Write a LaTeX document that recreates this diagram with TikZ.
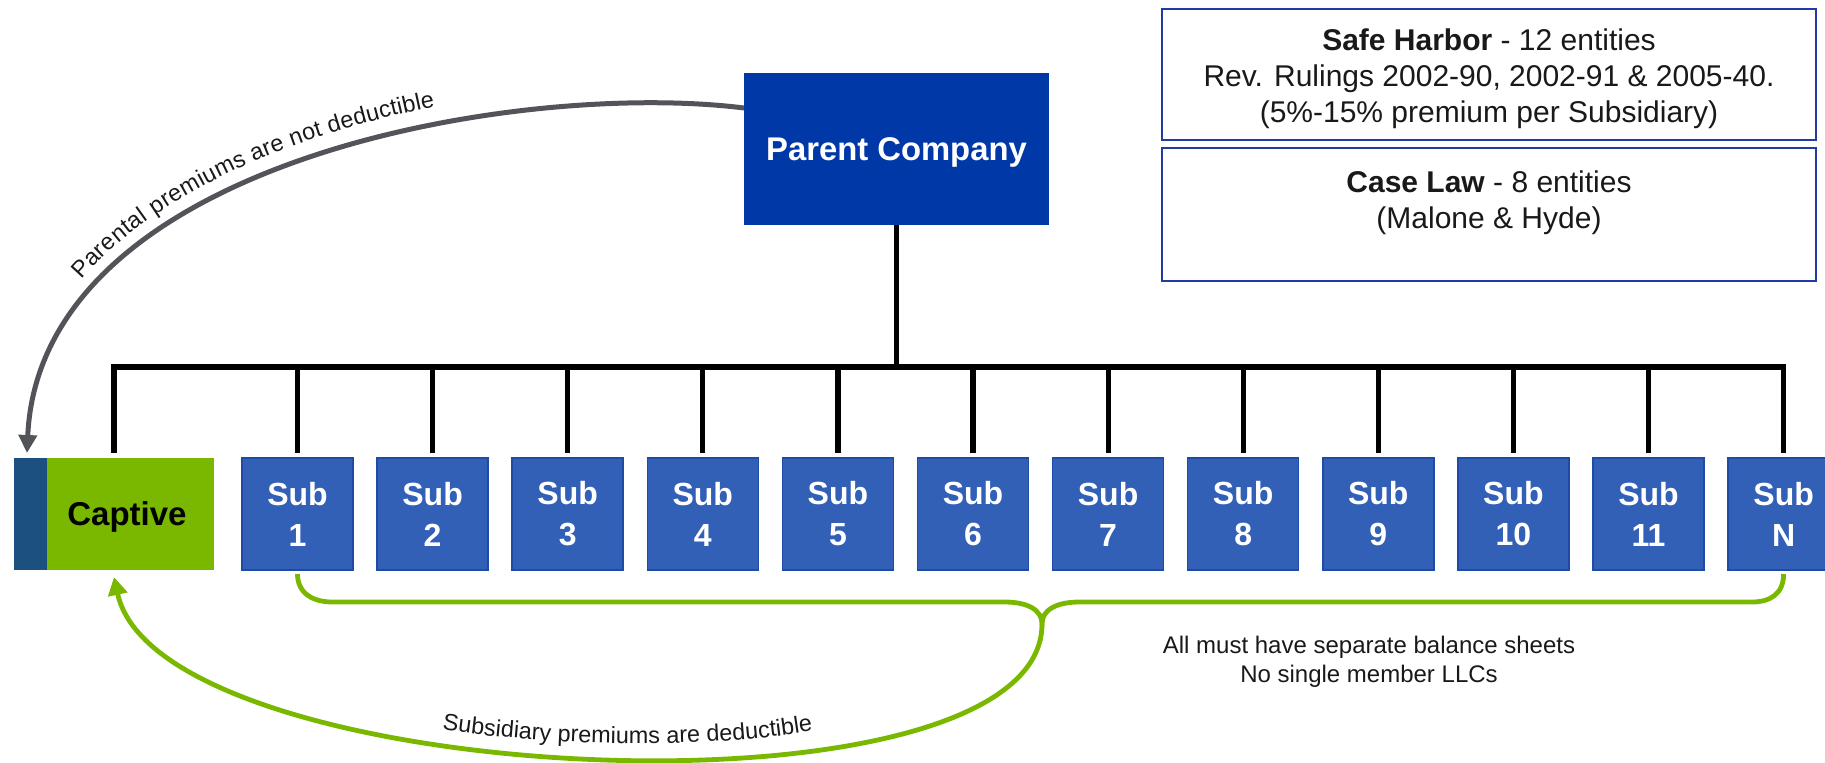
\documentclass[tikz,border=0pt]{standalone}
\usepackage{fontspec}
\setmainfont{Liberation Sans}
\usetikzlibrary{arrows.meta,decorations.text}

\definecolor{parentblue}{RGB}{0,56,168}
\definecolor{subblue}{RGB}{50,96,183}
\definecolor{subedge}{RGB}{30,74,168}
\definecolor{capgreen}{RGB}{122,184,0}
\definecolor{capstrip}{RGB}{28,80,128}
\definecolor{boxedge}{RGB}{32,60,160}
\definecolor{arrowgrey}{RGB}{82,84,90}
\definecolor{textdark}{RGB}{25,25,25}

\begin{document}
\begin{tikzpicture}[x=0.5pt,y=-0.5pt,
  every node/.style={inner sep=0pt,outer sep=0pt},
  parentbox/.style={fill=parentblue,minimum width=152.5pt,minimum height=76pt,
    text=white,text depth=0pt,font=\fontsize{16.4}{20}\selectfont\bfseries},
  subbox/.style={draw=subedge,line width=0.75pt,fill=subblue,
    minimum width=55.5pt,minimum height=56pt,text=white,align=center,
    font=\fontsize{16}{20.5}\selectfont\bfseries},
  capbox/.style={fill=capgreen,minimum width=100pt,minimum height=56pt,
    text=black,text depth=0pt,font=\fontsize{16.5}{20}\selectfont\bfseries,
    path picture={\fill[capstrip] (path picture bounding box.south west)
      rectangle ([xshift=16.5pt]path picture bounding box.north west);}},
  infobox/.style={draw=boxedge,line width=1.25pt,fill=white,minimum width=327pt},
  infotext/.style={align=center,text=textdark,font=\fontsize{15}{18}\selectfont},
  notetext/.style={align=center,text=textdark,font=\fontsize{12}{14.65}\selectfont},
  tree/.style={draw=black,line width=2.6pt},
  greyarrow/.style={draw=arrowgrey,line width=2.5pt,-{Triangle[length=9pt,width=9pt]}},
  bracegreen/.style={draw=capgreen,line width=2.4pt},
  greenarrow/.style={draw=capgreen,line width=2.4pt,-{Triangle[length=9pt,width=9.5pt]}},
  curvelabel/.style={decorate,decoration={text along path,text color=textdark,
    text={|\fontsize{11.7}{14}\selectfont|#1}}}
]
\useasboundingbox (0,0) rectangle (1825,763);
\clip (0,0) rectangle (1825,763);

% entities
\node[parentbox] (parent) at (896.5,149.5) {Parent Company};
\node[capbox] (captive) at (114,514) {\hspace*{13pt}Captive};
\foreach \i/\lab in {1/1,2/2,3/3,4/4,5/5,6/6,7/7,8/8,9/9,10/10,11/11,12/N}
  \node[subbox] (s\i) at ({297.5+135.1*(\i-1)},514) {Sub\\\lab};

% ownership tree
\coordinate (bus) at (0,367);
\draw[tree] (parent.south) -- (parent.south |- bus);
\draw[tree,line cap=rect] (captive.north |- bus) -- (s12.north |- bus);
\draw[tree] (captive.north |- bus) -- ([yshift=2.5pt]captive.north);
\foreach \i in {1,...,12}
  \draw[tree] (s\i.north |- bus) -- ([yshift=2.5pt]s\i.north);

% rule boxes
\node[infobox,minimum height=65.5pt] (harbor) at (1489,74.5) {};
\node[infotext] (harbortext) at ([yshift=-2.1pt]harbor.center)
  {\textbf{Safe Harbor} - 12 entities\\Rev. Rulings 2002-90, 2002-91 \& 2005-40.\\(5\%-15\% premium per Subsidiary)};
\node[infobox,minimum height=66.5pt] (caselaw) at (1489,214.5) {};
\node[infotext] (caselawtext) at ([yshift=5.65pt]caselaw.center)
  {\textbf{Case Law} - 8 entities\\(Malone \& Hyde)};

% parental premiums
\draw[greyarrow] ([yshift=20.75pt]parent.west) .. controls (520,80) and (40,160)
  .. ([shift={(6.5pt,2.5pt)}]captive.north west);
\path[curvelabel={Parental premiums are not deductible},
  decoration={text align={left indent=90pt},raise=9pt}]
  (27,455) .. controls (40,160) and (520,80) .. (740,108);

% subsidiaries brace
\coordinate (btip) at (1042,624);
\draw[bracegreen] ([yshift=-2pt]s1.south) .. controls +(0,20) and +(-18,0) .. (332,602)
  -- (1004,602) .. controls +(24,0) and +(0,-14) .. (btip)
  .. controls +(0,-14) and +(-24,0) .. (1080,602)
  -- (1752,602) .. controls +(18,0) and +(0,20) .. ([yshift=-2pt]s12.south);

% subsidiary premiums
\draw[greenarrow] (btip) .. controls (1042,830) and (160,790) .. ([yshift=-3.5pt]captive.south);
\path[curvelabel={Subsidiary premiums are deductible},decoration={text align=center}]
  (438,729) .. controls (560,748) and (720,748) .. (817,730);

\node[notetext] (note) at (1369,661.5) {All must have separate balance sheets\\No single member LLCs};
\end{tikzpicture}
\end{document}
